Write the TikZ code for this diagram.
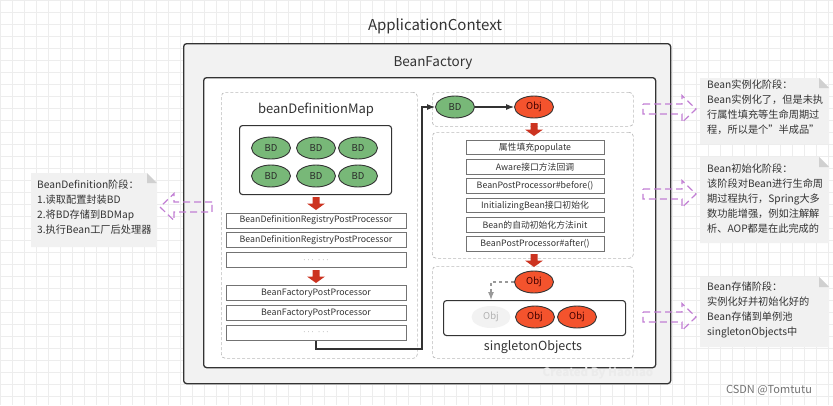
\documentclass[tikz,border=0pt]{standalone}
\usepackage{fontspec}
\setmainfont{Noto Sans CJK SC}
\usepackage{tikz}
\usetikzlibrary{positioning}
\usetikzlibrary{arrows.meta,shapes.geometric}
\definecolor{ctx-fill}{HTML}{F2F2F2}
\definecolor{ctx-line}{HTML}{333333}
\definecolor{ctx-text}{HTML}{333333}
\definecolor{zone-line}{HTML}{BBBBBB}
\definecolor{bd-green}{HTML}{78B878}
\definecolor{obj-red}{HTML}{F4532D}
\definecolor{stage-red}{HTML}{CC3320}
\definecolor{hint-purple}{HTML}{C27FD4}
\definecolor{note-grey}{HTML}{F1F1F1}
\definecolor{fold-grey}{HTML}{D0D0D0}
\definecolor{grid-grey}{HTML}{EDEDED}

\begin{document}
\begin{tikzpicture}[
    x=1pt, y=-1pt,
    >=Latex,
    node distance=4pt
  ]

  % Styles for containers, beans and notes
  \tikzset{
    ctxbox/.style={draw=ctx-line, fill=ctx-fill, line width=1.3pt, rounded corners=3pt, anchor=north west, inner sep=0pt},
    factorybox/.style={draw=ctx-line, fill=white, line width=1.3pt, rounded corners=3pt, anchor=north west, inner sep=0pt},
    zonebox/.style={draw=zone-line, dash pattern=on 3pt off 2pt, line width=0.7pt, rounded corners=4pt, anchor=north west, inner sep=0pt},
    poolbox/.style={draw=ctx-line, fill=white, line width=1.1pt, rounded corners=3pt, anchor=north west, inner sep=0pt},
    bdnode/.style={draw=ctx-line, fill=bd-green, ellipse, line width=0.9pt, minimum width=39pt, minimum height=22pt, inner sep=0pt, text=ctx-text!80!black, font=\fontsize{9.5}{10}\selectfont},
    objnode/.style={bdnode, fill=obj-red, text=black!75!red},
    ghostnode/.style={ellipse, fill=ctx-fill, minimum width=39pt, minimum height=22pt, inner sep=0pt, text=black!30, font=\fontsize{9.5}{10}\selectfont},
    procbox/.style={draw=black!55, fill=white, line width=0.8pt, minimum width=180pt, minimum height=15pt, inner sep=0pt, text=ctx-text, font=\fontsize{8.8}{9}\selectfont},
    stagebox/.style={procbox, minimum width=138pt, minimum height=14.5pt},
    downarrow/.style={fill=stage-red},
    hintarrow/.style={draw=hint-purple, dash pattern=on 7pt off 4pt, line width=1.2pt, line join=miter},
    notetext/.style={anchor=north west, align=left, inner sep=0pt, text=ctx-text, font=\fontsize{10.2}{15}\selectfont},
    flow/.style={->, draw=ctx-line, line width=1.1pt}
  }

  \useasboundingbox (0,0) rectangle (833,405);

  % Canvas grid
  \fill[white] (0,0) rectangle (833,405);
  \foreach \gx in {0,12,...,828}
    \draw[grid-grey, line width=0.5pt] (\gx,0) -- (\gx,405);
  \foreach \gy in {0,12,...,400}
    \draw[grid-grey, line width=0.5pt] (0,\gy) -- (833,\gy);

  % Containers
  \node (appCtx)  [ctxbox, minimum width=487pt, minimum height=340pt] at (183,43) {};
  \node (appTitle) [text=ctx-text, font=\fontsize{15}{16}\selectfont] at (435,26) {ApplicationContext};
  \node (factory) [factorybox, minimum width=452pt, minimum height=290pt] at (203,77) {};
  \node (factoryTitle) [text=ctx-text, font=\fontsize{13.5}{14}\selectfont] at (433,63) {BeanFactory};

  % Left zone: bean definitions and factory post processors
  \node (defZone) [zonebox, minimum width=196pt, minimum height=266pt] at (221,92) {};
  \node (mapTitle) [text=ctx-text, font=\fontsize{13}{14}\selectfont] at (316,110) {beanDefinitionMap};
  \node (mapBox)  [poolbox, minimum width=152pt, minimum height=69pt] at (239,125) {};
  \node (bdA) [bdnode] at (271,148) {BD};
  \node (bdB) [bdnode] at (316,148) {BD};
  \node (bdC) [bdnode] at (358,148) {BD};
  \node (bdD) [bdnode] at (271,176) {BD};
  \node (bdE) [bdnode] at (316,176) {BD};
  \node (bdF) [bdnode] at (358,176) {BD};

  \node (regA) [procbox] at (316,220.5) {BeanDefinitionRegistryPostProcessor};
  \node (regB) [procbox, below=of regA] {BeanDefinitionRegistryPostProcessor};
  \node (regC) [procbox, below=of regB] {\textcolor{black!45}{$\cdots$\ \ $\cdots$}};
  \node (facA) [procbox] at (316,293) {BeanFactoryPostProcessor};
  \node (facB) [procbox, below=of facA] {BeanFactoryPostProcessor};
  \node (facC) [procbox, below=of facB] {\textcolor{black!45}{$\cdots$\ \ $\cdots$}};

  % Right zone: instantiation
  \node (newZone) [zonebox, minimum width=201pt, minimum height=34pt] at (432,92) {};
  \node (beanBD)  [bdnode] at (455,107) {BD};
  \node (beanObj) [objnode] at (534,107) {Obj};

  % Right zone: initialization steps
  \node (initZone) [zonebox, minimum width=201pt, minimum height=126pt] at (432,132) {};
  \node (stepA) [stagebox] at (535,147.5) {属性填充populate};
  \node (stepB) [stagebox, below=of stepA] {Aware接口方法回调};
  \node (stepC) [stagebox, below=of stepB] {BeanPostProcessor\#before()};
  \node (stepD) [stagebox, below=of stepC] {InitializingBean接口初始化};
  \node (stepE) [stagebox, below=of stepD] {Bean的自动初始化方法init};
  \node (stepF) [stagebox, below=of stepE] {BeanPostProcessor\#after()};

  % Right zone: singleton pool
  \node (poolZone) [zonebox, minimum width=201pt, minimum height=92pt] at (432,266) {};
  \node (objTop) [objnode] at (534,282) {Obj};
  \node (poolBox) [poolbox, minimum width=182pt, minimum height=35pt] at (443,300) {};
  \node (objGhost) [ghostnode] at (491,317) {Obj};
  \node (objB) [objnode] at (535,317) {Obj};
  \node (objC) [objnode] at (577,317) {Obj};
  \node (poolTitle) [text=ctx-text, font=\fontsize{12.5}{13}\selectfont] at (533,347) {singletonObjects};

  % Red stage arrows (x / top)
  \foreach \ax/\ay in {316/197, 316/270, 534/123, 534/254}
    \fill[downarrow] (\ax-3.5,\ay) -- (\ax+3.5,\ay) -- (\ax+3.5,\ay+6.5) -- (\ax+9,\ay+6.5)
      -- (\ax,\ay+13) -- (\ax-9,\ay+6.5) -- (\ax-3.5,\ay+6.5) -- cycle;

  % Connectors
  \coordinate (bend) at (422,349);
  \draw[flow] (facC.south) |- (bend) |- (beanBD.west);
  \draw[flow] (beanBD) -- (beanObj);
  \draw[->, draw=black!40, dashed, line width=1.1pt] (objTop.west) -| (objGhost |- poolBox.north);

  % Sticky notes
  \foreach \xa/\ya/\xb/\yb in {31/173/157/247, 700/78/829/144, 700/157/829/243, 700/277/829/347} {
    \fill[note-grey] (\xa,\ya) -- (\xb-10,\ya) -- (\xb,\ya+10) -- (\xb,\yb) -- (\xa,\yb) -- cycle;
    \fill[fold-grey] (\xb-10,\ya) -- (\xb-10,\ya+10) -- (\xb,\ya+10) -- cycle;
  }
  \node (noteDef) [notetext] at (37,180) {BeanDefinition阶段：\\1.读取配置封装BD\\2.将BD存储到BDMap\\3.执行Bean工厂后处理器};
  \node (noteNew) [notetext] at (707,80) {Bean实例化阶段：\\Bean实例化了，但是未执\\行属性填充等生命周期过\\程，所以是个"半成品"};
  \node (noteInit) [notetext] at (707,164) {Bean初始化阶段：\\该阶段对Bean进行生命周\\期过程执行，Spring大多\\数功能增强，例如注解解\\析、AOP都是在此完成的};
  \node (noteStore) [notetext] at (707,282) {Bean存储阶段：\\实例化好并初始化好的\\Bean存储到单例池\\singletonObjects中};

  % Hint arrows (hollow, dashed)
  \draw[hintarrow] (212,202) -- (174,202) -- (174,193.5) -- (160,207) -- (174,220.5)
    -- (174,212) -- (212,212) -- cycle;
  \foreach \cy in {109, 194, 317}
    \draw[hintarrow] (643,\cy-5) -- (682,\cy-5) -- (682,\cy-13.5) -- (696,\cy)
      -- (682,\cy+13.5) -- (682,\cy+5) -- (643,\cy+5) -- cycle;

  % Watermarks
  \node (markA) [text=black!8, font=\bfseries\fontsize{11.5}{12}\selectfont] at (598,373) {Created By Haohao};
  \node (markB) [text=black!55, font=\fontsize{11}{12}\selectfont] at (769,390) {CSDN @Tomtutu};

\end{tikzpicture}
\end{document}
